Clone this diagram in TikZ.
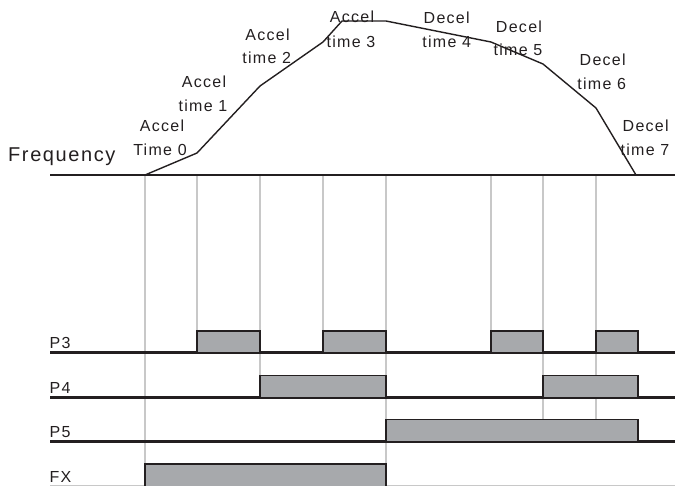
\documentclass[tikz,border=0pt]{standalone}
\usepackage{fontspec}
\setmainfont{Liberation Sans}[LetterSpace=8]
\definecolor{ink}{HTML}{231F20}
\definecolor{pulsefill}{HTML}{A7A9AC}
\definecolor{guide}{HTML}{C8C8C8}
\tikzset{
  lbl/.style={font=\fontsize{16}{19}\selectfont, text=ink, inner sep=0pt, anchor=base},
  sig/.style={font=\fontsize{16}{19}\selectfont, text=ink, inner sep=0pt, anchor=base west},
  guideline/.style={draw=guide, line width=1.2pt},
  baseline/.style={draw=ink, line width=2.6pt},
  pulse/.style={fill=pulsefill, draw=ink, line width=1.3pt},
  curve/.style={draw=ink, line width=1.4pt, line join=miter}
}
\begin{document}
\begin{tikzpicture}[x=1pt,y=-1pt]
\useasboundingbox (0,0) rectangle (675,485);
% curve points
\coordinate (f0) at (145,175);
\coordinate (f1) at (197,153);
\coordinate (f2) at (260,86);
\coordinate (f3) at (323,42);
\coordinate (f4) at (342,21);
\coordinate (f5) at (386,21);
\coordinate (f6) at (491,42);
\coordinate (f7) at (543,64);
\coordinate (f8) at (596,108);
\coordinate (f9) at (636,175);
% guide line ends
\coordinate (g0) at (145,464);
\coordinate (g1) at (197,331);
\coordinate (g2) at (260,375.7);
\coordinate (g3) at (323,331);
\coordinate (g4) at (386,485);
\coordinate (g5) at (491,331);
\coordinate (g6) at (543,419.3);
\coordinate (g7) at (596,419.3);
\coordinate (t0) at (145,175);
\coordinate (t1) at (197,175);
\coordinate (t2) at (260,175);
\coordinate (t3) at (323,175);
\coordinate (t4) at (386,175);
\coordinate (t5) at (491,175);
\coordinate (t6) at (543,175);
\coordinate (t7) at (596,175);
\foreach \i in {0,...,7} {\draw[guideline] (t\i) -- (g\i);}
% baselines
\coordinate (fl) at (50,175);   \coordinate (fr) at (675,175);
\coordinate (p3l) at (50,352.5); \coordinate (p3r) at (675,352.5);
\coordinate (p4l) at (50,397.3); \coordinate (p4r) at (675,397.3);
\coordinate (p5l) at (50,441.7); \coordinate (p5r) at (675,441.7);
\coordinate (fxl) at (50,486.5); \coordinate (fxr) at (675,486.5);
\draw[baseline] (fl) -- (fr);
\draw[baseline] (p3l) -- (p3r);
\draw[baseline, line width=3.4pt] (p4l) -- (p4r);
\draw[baseline] (p5l) -- (p5r);
\draw[baseline, draw=guide] (fxl) -- (fxr);
% pulses
\draw[pulse] (197,352.5) rectangle (260,331);
\draw[pulse] (323,352.5) rectangle (386,331);
\draw[pulse] (491,352.5) rectangle (543,331);
\draw[pulse] (596,352.5) rectangle (638,331);
\draw[pulse] (260,397.3) rectangle (386,375.7);
\draw[pulse] (543,397.3) rectangle (638,375.7);
\draw[pulse] (386,441.7) rectangle (638,419.3);
\draw[pulse] (145,487) rectangle (386,464);
% curve
\draw[curve] (f0) -- (f1) -- (f2) -- (f3) -- (f4) -- (f5) -- (f6) -- (f7) -- (f8) -- (f9);
% labels
\node[font=\fontsize{20}{24}\selectfont, text=ink, inner sep=0pt, anchor=base west] (freq) at (8,161) {Frequency};
\node[lbl] (a0a) at (162,131.5) {Accel};
\node[lbl] (a0b) at (160,155) {Time 0};
\node[lbl] (a1a) at (204,87) {Accel};
\node[lbl] (a1b) at (203,111.5) {time 1};
\node[lbl] (a2a) at (267.5,40.5) {Accel};
\node[lbl] (a2b) at (266.7,63.5) {time 2};
\node[lbl] (a3a) at (352,22.5) {Accel};
\node[lbl] (a3b) at (351,47) {time 3};
\node[lbl] (d4a) at (446.7,23) {Decel};
\node[lbl] (d4b) at (446.7,47) {time 4};
\node[lbl] (d5a) at (519,32) {Decel};
\node[lbl] (d5b) at (518,55) {time 5};
\node[lbl] (d6a) at (602.7,65.5) {Decel};
\node[lbl] (d6b) at (601.7,89) {time 6};
\node[lbl] (d7a) at (645.7,131.5) {Decel};
\node[lbl] (d7b) at (645,155) {time 7};
\node[sig] (p3) at (49.5,348.5) {P3};
\node[sig] (p4) at (49.5,393) {P4};
\node[sig] (p5) at (49.5,437.5) {P5};
\node[sig] (fx) at (49.5,482) {FX};
\end{tikzpicture}
\end{document}
